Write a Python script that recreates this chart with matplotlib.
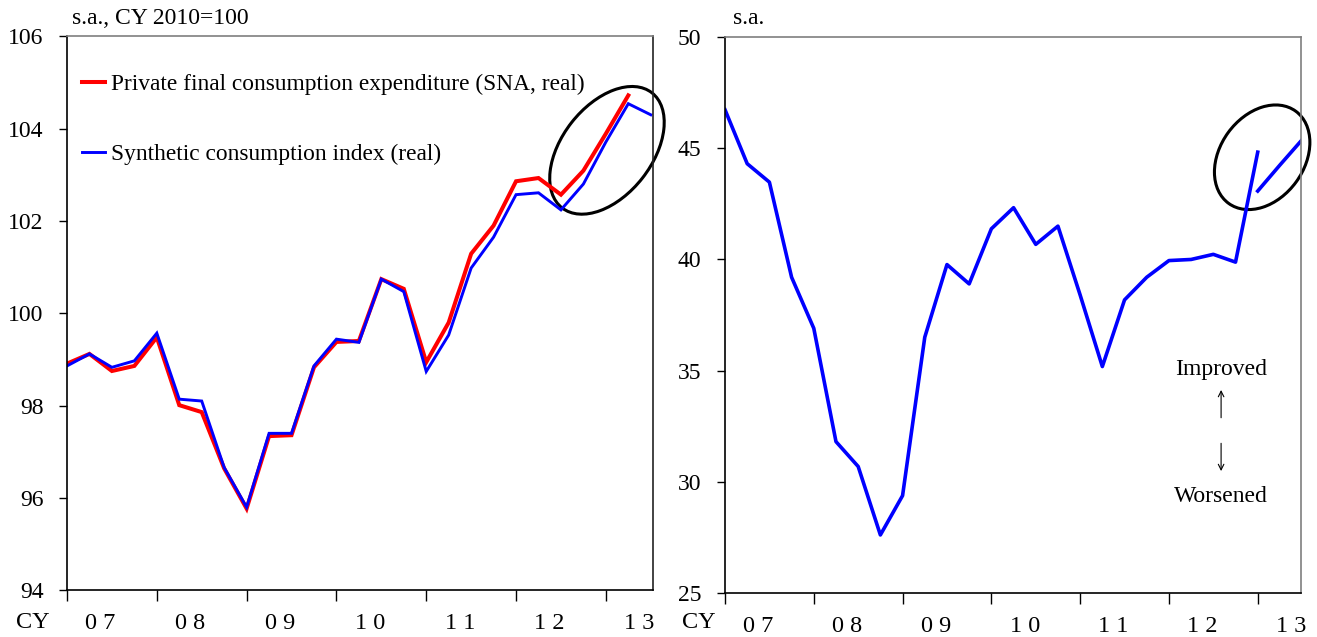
import matplotlib
matplotlib.use("Agg")
import matplotlib.pyplot as plt
import numpy as np
from matplotlib.patches import Ellipse
from matplotlib.transforms import ScaledTranslation

plt.rcParams['font.family'] = ['Liberation Serif', 'DejaVu Serif']

# ---------------- data ----------------
year_labels = ["0 7", "0 8", "0 9", "1 0", "1 1", "1 2", "1 3"]
# quarterly, 2007Q1 ...
pce_real = [98.91, 99.12, 98.75, 98.86, 99.48, 98.01, 97.86, 96.64, 95.77, 97.34,
            97.36, 98.83, 99.38, 99.40, 100.74, 100.53, 98.94, 99.80, 101.29, 101.90,
            102.86, 102.93, 102.57, 103.09, 103.89, 104.72]
sci_real = [98.86, 99.12, 98.83, 98.97, 99.57, 98.14, 98.10, 96.66, 95.80, 97.40,
            97.40, 98.86, 99.44, 99.37, 100.74, 100.47, 98.74, 99.53, 100.98, 101.65,
            102.57, 102.61, 102.24, 102.80, 103.71, 104.54, 104.30]
confidence_old = [46.74, 44.31, 43.48, 39.20, 36.90, 31.80, 30.68, 27.60, 29.37, 36.50,
                  39.77, 38.90, 41.38, 42.33, 40.68, 41.50, 38.40, 35.18, 38.18, 39.20,
                  39.95, 40.00, 40.23, 39.88, 44.83]
confidence_new = [43.08, 44.25, 45.39]
confidence_new_start = 24

label_left_title = "s.a., CY 2010=100"
label_right_title = "s.a."
legend_labels = ["Private final consumption expenditure (SNA, real)",
                 "Synthetic consumption index (real)"]

fig = plt.figure(figsize=(13.17, 6.37), dpi=100)
axL = fig.add_axes([67/1317, 1-590.3/637, 586/1317, 554/637])
axR = fig.add_axes([725/1317, 1-592.7/637, 576/1317, 555.4/637])

xL = np.arange(len(sci_real))
l1, = axL.plot(np.arange(len(pce_real)), pce_real, color='#ff0000', lw=2.9, solid_joinstyle='miter')
l2, = axL.plot(xL, sci_real, color='#0000ff', lw=2.1, solid_joinstyle='miter')
axL.set_xlim(0, 26.1)
axL.set_ylim(94, 106)
axL.set_yticks(np.arange(94, 107, 2))

axR.plot(np.arange(len(confidence_old)), confidence_old, color='#0000ff', lw=2.6)
axR.plot(np.arange(confidence_new_start, confidence_new_start+len(confidence_new)),
         confidence_new, color='#0000ff', lw=2.6)
axR.set_xlim(0, 25.95)
axR.set_ylim(25, 50)
axR.set_yticks(np.arange(25, 51, 5))

for ax in (axL, axR):
    ax.set_xticks(np.arange(0, 25, 4))
    ax.set_xticklabels([])
    ax.tick_params(axis='x', direction='out', length=8, width=1, color='black')
    ax.tick_params(axis='y', direction='out', length=6, width=1, color='black',
                   labelsize=17, pad=11)
    for s in ('left', 'bottom'):
        ax.spines[s].set_color('black')
        ax.spines[s].set_linewidth(1.2)
    for s in ('top', 'right'):
        ax.spines[s].set_color('#7f7f7f')
        ax.spines[s].set_linewidth(1.2)
    for i, lab in enumerate(year_labels):
        ax.text(4*i + 1.5, -0.06, lab, transform=ax.get_xaxis_transform(),
                ha='center', va='center', fontsize=17.5)
axL.spines['right'].set_color('#222222')

fig.text(33/1317, 1-623/637, "CY", ha='center', va='center', fontsize=17.5)
fig.text(699/1317, 1-623/637, "CY", ha='center', va='center', fontsize=17.5)
fig.text(72/1317, 1-18/637, label_left_title, ha='left', va='center', fontsize=17)
fig.text(733/1317, 1-18/637, label_right_title, ha='left', va='center', fontsize=17)

axL.legend([l1, l2], legend_labels, loc='upper left', bbox_to_anchor=(0.025, 0.932),
           frameon=False, fontsize=16.8, labelspacing=2.08, handlelength=1.0,
           handletextpad=0.25, borderpad=0, borderaxespad=0)

# ellipses (sizes in pixels/100 = inches, anchored at data points)
def ring(ax, x, y, w_px, h_px, ang):
    tr = fig.dpi_scale_trans + ScaledTranslation(x, y, ax.transData)
    e = Ellipse((0, 0), w_px/100, h_px/100, angle=ang, transform=tr,
                fill=False, ec='black', lw=2.2, clip_on=False)
    ax.add_artist(e)

ring(axL, 24.05, 103.53, 146, 90, 52)
ring(axR, 24.2, 44.6, 114, 84, 54)

# improved / worsened
axR.text(22.35, 35.06, "Improved", ha='center', va='center', fontsize=17)
axR.text(22.35, 29.34, "Worsened", ha='center', va='center', fontsize=17)
axR.annotate("", xy=(22.35, 34.25), xytext=(22.35, 32.75),
             arrowprops=dict(arrowstyle='->', lw=0.8, color='black'))
axR.annotate("", xy=(22.35, 30.35), xytext=(22.35, 31.85),
             arrowprops=dict(arrowstyle='->', lw=0.8, color='black'))

fig.savefig("out.png", dpi=100)
